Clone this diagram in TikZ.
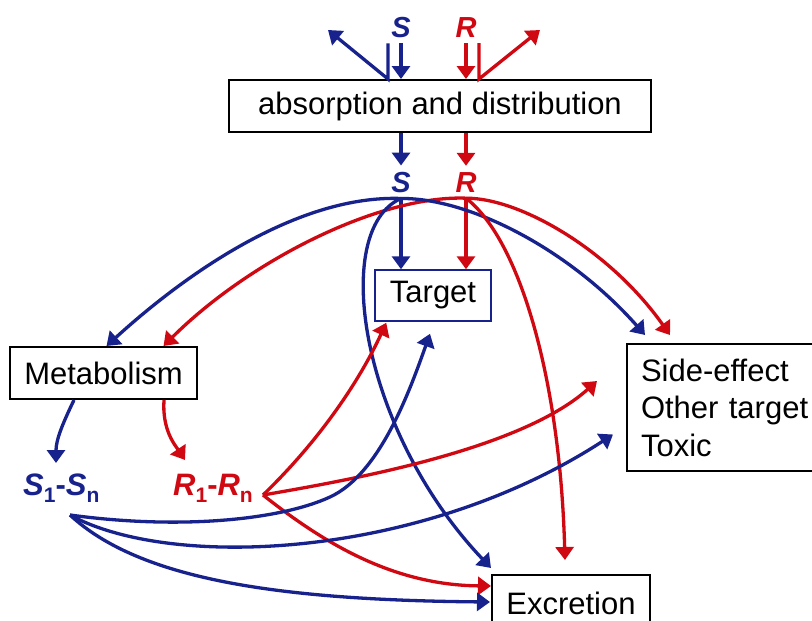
\documentclass[tikz,border=0pt]{standalone}
\usepackage{fontspec}
\setmainfont{Liberation Sans}
\usetikzlibrary{arrows.meta,calc}
\definecolor{myblue}{RGB}{24,34,140}
\definecolor{myred}{RGB}{208,8,18}
\newcommand{\lowsub}[1]{\raisebox{-7pt}{\fontsize{21}{21}\selectfont #1}}
\begin{document}
\begin{tikzpicture}[x=1pt,y=-1pt,
  bl/.style={draw=myblue, line width=3.3pt},
  rd/.style={draw=myred, line width=3.3pt},
  arr/.style={-{Triangle[length=13pt,width=18pt]}},
  box/.style={draw=black, line width=2pt, fill=white, font=\fontsize{31}{37.5}\selectfont, inner sep=0pt},
  lbl/.style={font=\fontsize{29}{31}\selectfont\bfseries\itshape, inner sep=1pt}]
\path[use as bounding box] (0,0) rectangle (812,621);
\clip (0,0) rectangle (812,621);

% boxes
\node[box, minimum width=422pt, minimum height=52pt] (abs) at (440,106) {absorption and distribution};
\node[box, draw=myblue, line width=1.5pt, minimum width=116pt, minimum height=51pt] (tgt) at (433,295.5) {Target};
\node[box, minimum width=187pt, minimum height=52pt] (met) at (103.5,373) {Metabolism};
\node[box, anchor=north west, align=left, text width=172pt, inner xsep=14pt, minimum height=127pt] (side) at (626,343) {Side-effect\\Other target\\Toxic};
\node[box, anchor=north west, minimum width=158pt, minimum height=56pt] (exc) at (491,574) {Excretion};

% labels
\node[lbl, text=myblue] (S0) at (401,28) {S};
\node[lbl, text=myred] (R0) at (466,28) {R};
\node[lbl, text=myblue] (S1) at (401,183) {S};
\node[lbl, text=myred] (R1) at (466,183) {R};
\node[lbl, text=myblue, font=\fontsize{31}{33}\selectfont\bfseries, anchor=base west] (Sn) at (22,495) {\textit{S}\lowsub{1}-\textit{S}\lowsub{n}};
\node[lbl, text=myred, font=\fontsize{31}{33}\selectfont\bfseries, anchor=base west] (Rn) at (172,495) {\textit{R}\lowsub{1}-\textit{R}\lowsub{n}};

% coordinates
\coordinate (bt) at ($(S0.south)+(-13,4)$);
\coordinate (bb) at ($(S0.south |- abs.north)+(-13,0)$);
\coordinate (bout) at (328,30);
\coordinate (rt) at ($(R0.south)+(13,4)$);
\coordinate (rb) at ($(R0.south |- abs.north)+(13,0)$);
\coordinate (rout) at (540,30);
\coordinate (sh) at ($(S1.south)+(0,4)$);
\coordinate (rh) at ($(R1.south)+(0,4)$);
\coordinate (snin) at (56,463);
\coordinate (rnin) at (185,460);
\coordinate (snhub) at (70,515);
\coordinate (rnhub) at (263,495);

% top arrows
\draw[bl,arr] ($(S0.south)+(0,4)$) -- (S0.south |- abs.north);
\draw[bl,arr] (bt) -- (bb) -- (bout);
\draw[rd,arr] ($(R0.south)+(0,4)$) -- (R0.south |- abs.north);
\draw[rd,arr] (rt) -- (rb) -- (rout);
\draw[bl,arr] (abs.south -| S1) -- ($(S1.north)+(0,-6)$);
\draw[rd,arr] (abs.south -| R1) -- ($(R1.north)+(0,-6)$);

% from S and R
\draw[bl,arr] (sh) -- (sh |- tgt.north);
\draw[rd,arr] (rh) -- (rh |- tgt.north);
\draw[bl,arr] (sh) .. controls (300,195) and (190,270) .. ($(met.north)+(3,0)$);
\draw[rd,arr] (rh) .. controls (380,195) and (250,260) .. ($(met.north)+(60,0)$);
\draw[bl,arr] (sh) .. controls (470,198) and (570,250) .. ($(side.north west)+(19,-8)$);
\draw[rd,arr] (rh) .. controls (520,198) and (610,250) .. ($(side.north west)+(44,-8)$);
\draw[bl,arr] (sh) .. controls (330,230) and (360,430) .. ($(exc.north west)+(0,-6)$);
\draw[rd,arr] (rh) .. controls (520,240) and (560,380) .. ($(exc.north west)+(74,-14)$);

% metabolism
\draw[bl,arr] ($(met.south west)+(65,0)$) .. controls (62,425) and (56,440) .. (snin);
\draw[rd,arr] ($(met.south west)+(155,0)$) .. controls (162,430) and (175,445) .. (rnin);

% R1-Rn
\draw[rd,arr] (rnhub) .. controls (320,440) and (360,380) .. ($(tgt.south west)+(12,1)$);
\draw[rd,arr] (rnhub) .. controls (350,480) and (520,450) .. ($(side.west)+(-29,-26.5)$);
\draw[rd,arr] (rnhub) .. controls (320,540) and (390,585) .. ($(exc.north west)+(0,12)$);

% S1-Sn
\draw[bl,arr] (snhub) .. controls (180,530) and (280,520) .. (330,497) .. controls (380,474) and (410,390) .. ($(tgt.south)+(-3,12)$);
\draw[bl,arr] (snhub) .. controls (170,570) and (420,560) .. ($(side.west)+(-13,27)$);
\draw[bl,arr] (snhub) .. controls (140,580) and (280,600) .. ($(exc.north west)+(-1,28)$);
\end{tikzpicture}
\end{document}
